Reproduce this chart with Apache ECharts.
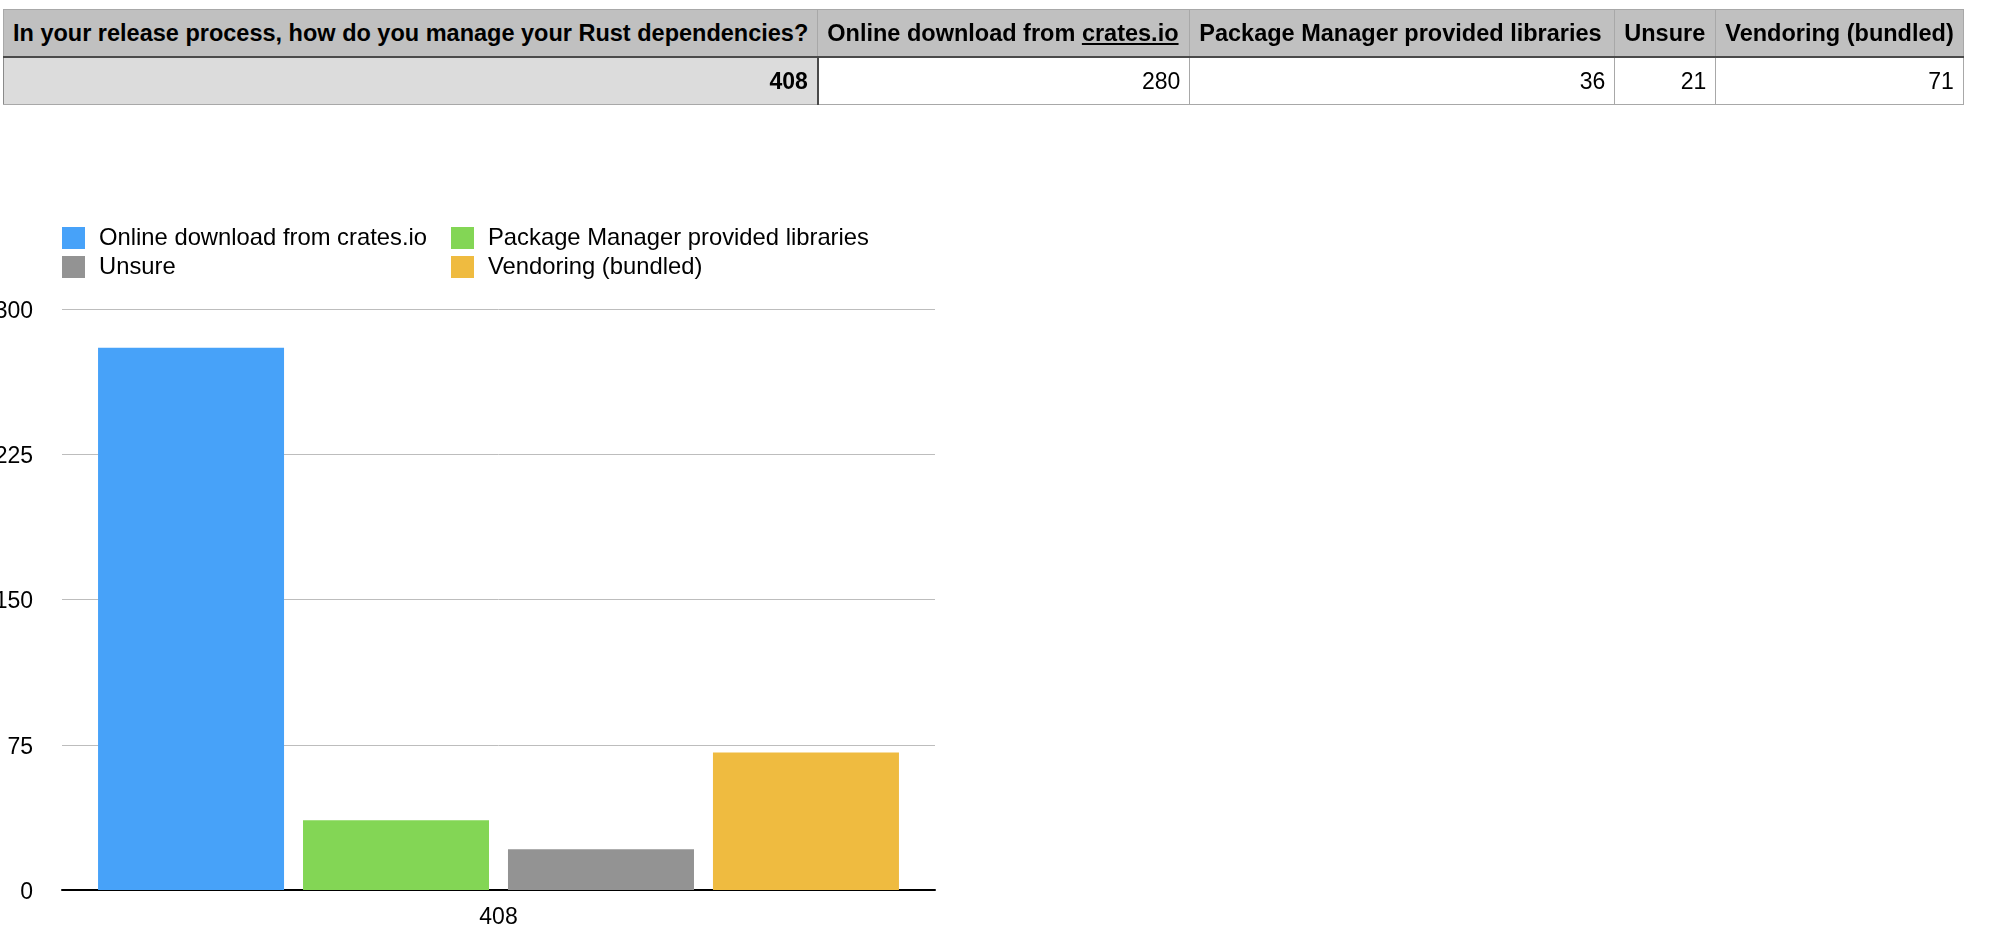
<!DOCTYPE html>
<html>
<head>
<meta charset="utf-8">
<script src="https://cdn.jsdelivr.net/npm/echarts@6/dist/echarts.min.js"></script>
<style>
  html, body { margin: 0; padding: 0; background: #fff; width: 1996px; height: 938px; overflow: hidden; }
  #chart { position: absolute; left: 0; top: 0; width: 1996px; height: 938px; }
  #tbl { position: absolute; left: 3px; top: 9px; border-collapse: collapse; table-layout: fixed;
         font-family: "Liberation Sans", Arial, sans-serif; font-size: 23px; color: #000; z-index: 2; }
  #tbl th, #tbl td { height: 46px; padding: 0 9px; white-space: nowrap; overflow: hidden; }
  #tbl th { background: #c0c0c0; font-weight: bold; font-size: 23.5px; text-align: left; border: 1px solid #a8a8a8; border-bottom: 2px solid #4a4a4a; }
  #tbl td { text-align: right; border: 1px solid #a8a8a8; border-left: 1px solid #8a8a8a; }
  #tbl td.first { background: #dcdcdc; font-weight: bold; border-right: 2px solid #4a4a4a; }
  #tbl th u { text-decoration: underline; }
</style>
</head>
<body>
<div id="chart"></div>
<table id="tbl"><colgroup id="cols"></colgroup><thead><tr id="hrow"></tr></thead><tbody><tr id="drow"></tr></tbody></table>
<script>
// ---- data ----
const question = 'In your release process, how do you manage your Rust dependencies?';
const categories = ['408'];
const seriesNames = ['Online download from crates.io', 'Package Manager provided libraries', 'Unsure', 'Vendoring (bundled)'];
const seriesValues = [280, 36, 21, 71];
const totalLabel = '408';
const yTicks = [0, 75, 150, 225, 300];
const colors = ['#47a2f9', '#83d655', '#939393', '#efbb40'];

// ---- table ----
const colWidths = [814, 372, 425, 101, 238];
const cols = document.getElementById('cols');
colWidths.forEach(w => { const c = document.createElement('col'); c.style.width = w + 'px'; cols.appendChild(c); });
const hrow = document.getElementById('hrow');
const drow = document.getElementById('drow');
[question].concat(seriesNames).forEach(t => {
  const th = document.createElement('th');
  if (t.indexOf('crates.io') >= 0) {
    th.innerHTML = t.replace('crates.io', '<u>crates.io</u>');
  } else th.textContent = t;
  hrow.appendChild(th);
});
[totalLabel].concat(seriesValues.map(String)).forEach((t, i) => {
  const td = document.createElement('td');
  td.textContent = t;
  if (i === 0) td.className = 'first';
  drow.appendChild(td);
});

// ---- chart ----
const chart = echarts.init(document.getElementById('chart'), null, { renderer: 'canvas' });
const font = '"Liberation Sans", Arial, sans-serif';
const legendText = { fontFamily: font, fontSize: 23.8, color: '#000', lineHeight: 22, padding: [0, 0, 0, 9] };
chart.setOption({
  animation: false,
  color: colors,
  legend: [
    { data: [seriesNames[0], seriesNames[2]], orient: 'vertical', left: 62, top: 226, icon: 'rect',
      itemWidth: 23, itemHeight: 22, itemGap: 5, padding: 0, textStyle: legendText, selectedMode: false },
    { data: [seriesNames[1], seriesNames[3]], orient: 'vertical', left: 451, top: 226, icon: 'rect',
      itemWidth: 23, itemHeight: 22, itemGap: 5, padding: 0, textStyle: legendText, selectedMode: false }
  ],
  grid: { left: 62, right: 1061, top: 309, bottom: 48, containLabel: false, outerBoundsMode: 'none' },
  xAxis: {
    type: 'category', data: categories,
    axisLine: { lineStyle: { color: '#000', width: 2 } },
    axisTick: { show: false },
    axisLabel: { fontFamily: font, fontSize: 23, color: '#000', margin: 16 }
  },
  yAxis: {
    type: 'value', min: yTicks[0], max: yTicks[yTicks.length - 1], interval: yTicks[1] - yTicks[0],
    axisLine: { show: false }, axisTick: { show: false },
    axisLabel: {
      margin: 29, formatter: '{v|{value}}',
      rich: { v: { fontFamily: font, fontSize: 23, color: '#000', padding: [5, 0, 0, 0] } }
    },
    splitLine: { lineStyle: { color: '#bdbdbd', width: 1 } }
  },
  series: seriesNames.map((n, i) => ({
    name: n, type: 'bar', data: [seriesValues[i]],
    barWidth: 186, barGap: '10.2%',
    itemStyle: { color: colors[i] }
  }))
});
</script>
</body>
</html>
